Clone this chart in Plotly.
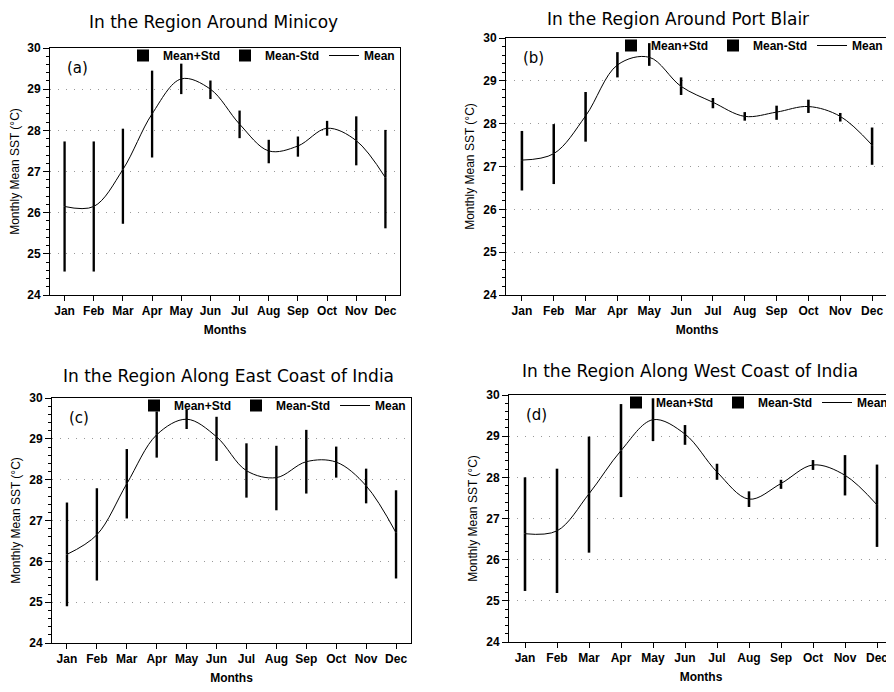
import plotly.graph_objects as go

months = ["Jan", "Feb", "Mar", "Apr", "May", "Jun", "Jul", "Aug", "Sep", "Oct", "Nov", "Dec"]

# Panel (a) Minicoy
mean_a = [26.15, 26.15, 27.05, 28.40, 29.25, 29.00, 28.15, 27.50, 27.62, 28.05, 27.75, 26.85]
plus_a = [27.73, 27.73, 28.04, 29.45, 29.62, 29.21, 28.48, 27.77, 27.85, 28.23, 28.34, 28.01]
minus_a = [24.57, 24.57, 25.73, 27.34, 28.88, 28.76, 27.81, 27.20, 27.36, 27.87, 27.15, 25.62]

# Panel (b) Port Blair
mean_b = [27.15, 27.30, 28.18, 29.37, 29.55, 28.87, 28.50, 28.17, 28.27, 28.40, 28.17, 27.50]
plus_b = [27.83, 27.99, 28.74, 29.67, 29.88, 29.08, 28.60, 28.27, 28.42, 28.56, 28.25, 27.91]
minus_b = [26.44, 26.59, 27.58, 29.08, 29.35, 28.67, 28.36, 28.07, 28.09, 28.25, 28.05, 27.04]

# Panel (c) East Coast of India
mean_c = [26.17, 26.65, 27.90, 29.10, 29.48, 29.05, 28.22, 28.05, 28.44, 28.43, 27.85, 26.70]
plus_c = [27.44, 27.79, 28.75, 29.67, 29.72, 29.54, 28.89, 28.83, 29.22, 28.81, 28.27, 27.74]
minus_c = [24.90, 25.53, 27.05, 28.54, 29.24, 28.46, 27.56, 27.25, 27.66, 28.05, 27.42, 25.58]

# Panel (d) West Coast of India
mean_d = [26.63, 26.70, 27.60, 28.65, 29.40, 29.05, 28.13, 27.47, 27.85, 28.30, 28.05, 27.33]
plus_d = [28.00, 28.21, 28.99, 29.78, 29.92, 29.27, 28.33, 27.66, 27.94, 28.42, 28.54, 28.31]
minus_d = [25.24, 25.19, 26.17, 27.52, 28.88, 28.79, 27.94, 27.28, 27.72, 28.18, 27.56, 26.31]

titles = ["In the Region Around Minicoy", "In the Region Around Port Blair",
          "In the Region Along East Coast of India", "In the Region Along West Coast of India"]
labels = ["(a)", "(b)", "(c)", "(d)"]

W, H = 894, 692
OFF = 8  # page body margin


def px_x(p):
    return (p - OFF) / W


def px_y(p):
    return 1 - (p - OFF) / H


# plot-area pixel boxes in screen coordinates (left, top, right, bottom)
boxes = [(50, 48, 400, 295), (506, 38, 888, 295), (52, 398, 411, 643), (509, 395, 893, 642)]
title_pos = [(213, 22), (678, 19), (228, 376), (690, 371)]

panels = [(mean_a, plus_a, minus_a), (mean_b, plus_b, minus_b),
          (mean_c, plus_c, minus_c), (mean_d, plus_d, minus_d)]

fig = go.Figure()
layout = dict(width=W, height=H, template="none",
              margin=dict(l=0, r=0, t=0, b=0, autoexpand=False),
              paper_bgcolor="white", plot_bgcolor="white", annotations=[])

tickfont = dict(family="Liberation Sans, Arial", size=12, color="black", weight="bold")

for i, (mean, plus, minus) in enumerate(panels):
    n = "" if i == 0 else str(i + 1)
    xa, ya = "x" + n, "y" + n
    lg = "legend" + n
    up = [p - m for p, m in zip(plus, mean)]
    dn = [m - q for m, q in zip(mean, minus)]
    fig.add_trace(go.Bar(x=months, y=up, base=mean, name="Mean+Std",
                         marker=dict(color="black", line=dict(width=0)),
                         width=0.08, xaxis=xa, yaxis=ya, legend=lg))
    fig.add_trace(go.Bar(x=months, y=dn, base=minus, name="Mean-Std",
                         marker=dict(color="black", line=dict(width=0)),
                         width=0.08, xaxis=xa, yaxis=ya, legend=lg))
    fig.add_trace(go.Scatter(x=months, y=mean, name="Mean", mode="lines",
                             line=dict(color="black", width=1, shape="spline"),
                             xaxis=xa, yaxis=ya, legend=lg))
    l, t, r, b = boxes[i]
    layout["xaxis" + n] = dict(domain=[px_x(l), px_x(r)], anchor=ya, type="category", categoryarray=months,
                               range=[-0.5, 11.5], showline=True, linecolor="black", linewidth=1, mirror=True,
                               ticks="outside", ticklen=5, tickcolor="black", tickfont=tickfont,
                               showgrid=False, zeroline=False, automargin=False,
                               title=dict(text="Months", font=tickfont, standoff=8))
    layout["yaxis" + n] = dict(domain=[px_y(b), px_y(t)], anchor=xa, range=[24, 30], dtick=1,
                               showline=True, linecolor="black", linewidth=1, mirror=True,
                               ticks="outside", ticklen=6, tickcolor="black", tickfont=tickfont,
                               showgrid=True, gridcolor="#999999", griddash="1px,7px", gridwidth=1,
                               zeroline=False, automargin=False,
                               minor=dict(dtick=0.2, ticks="outside", ticklen=3, tickcolor="black", showgrid=False),
                               title=dict(text="Monthly Mean SST (°C)",
                                          font=dict(family="Liberation Sans, Arial", size=12, color="black"),
                                          standoff=6))
    layout[lg] = dict(x=px_x(r), y=px_y(t) + 7 / H, xanchor="right", yanchor="top", orientation="h",
                      bgcolor="rgba(0,0,0,0)",
                      font=dict(family="Liberation Sans, Arial", size=12, color="black", weight="bold"),
                      itemwidth=30, tracegroupgap=0, traceorder="normal")
    tx, ty = title_pos[i]
    layout["annotations"].append(dict(text=titles[i], x=px_x(tx), y=px_y(ty), xref="paper", yref="paper",
                                      showarrow=False, xanchor="center", yanchor="middle",
                                      font=dict(family="DejaVu Sans", size=17, color="black")))
    layout["annotations"].append(dict(text=labels[i], x=px_x(l + 15), y=px_y(t + 20), xref="paper", yref="paper",
                                      showarrow=False, xanchor="left", yanchor="middle",
                                      font=dict(family="DejaVu Sans", size=15, color="black")))

fig.update_layout(**layout)
fig.update_layout(barmode="overlay", showlegend=True)
fig.write_html("out.html")
